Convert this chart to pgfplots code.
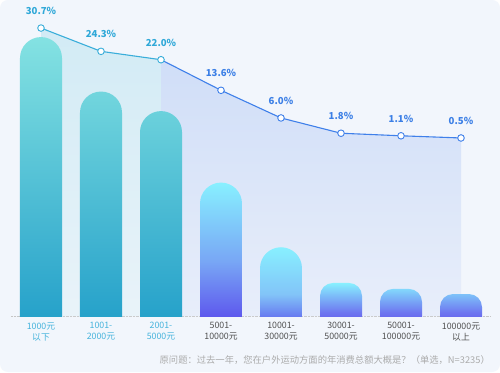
\documentclass[border=0pt]{standalone}
\usepackage{pgfplots}
\usepackage{pgfplotstable}
\pgfplotsset{compat=1.18}
\usepackage{fontspec}
\setmainfont{Noto Sans CJK SC}
\definecolor{bgc}{HTML}{F2F6FC}
\definecolor{lineA}{HTML}{3AAEDA}
\definecolor{lineB}{HTML}{3F80EA}
\definecolor{labA}{HTML}{2FA8D8}
\definecolor{labB}{HTML}{3B7FE6}
\definecolor{areaA1}{HTML}{D2EBF5}
\definecolor{areaA2}{HTML}{E9F3F9}
\definecolor{areaB1}{HTML}{D0DEF8}
\definecolor{areaB2}{HTML}{E8EEFA}
\definecolor{barAtop}{HTML}{84E2E2}
\definecolor{barAbot}{HTML}{1E9CC8}
\definecolor{barBtop}{HTML}{88F0FF}
\definecolor{barBmid}{HTML}{78A6F5}
\definecolor{barBbot}{HTML}{5236EA}
\definecolor{barDmid}{HTML}{82C4F8}
\definecolor{barDbot}{HTML}{4A2AE8}
\definecolor{barCmid}{HTML}{6E78F0}
\definecolor{barCbot}{HTML}{4E2AE6}
\definecolor{tickA}{HTML}{45B3DC}
\definecolor{tickB}{HTML}{505050}
\definecolor{notec}{HTML}{ABABAB}
% share of respondents (%) by yearly outdoor-sports spending
\pgfplotstableread{
x y
0 30.7
1 24.3
2 22.0
}\tabA
\pgfplotstableread{
x y
2 22.0
3 13.6
4 6.0
5 1.8
6 1.1
7 0.5
}\tabLineB
\pgfplotstableread{
x y
3 13.6
}\tabB
\pgfplotstableread{
x y
4 6.0
}\tabD
\pgfplotstableread{
x y
5 1.8
6 1.1
7 0.5
}\tabC
\pgfplotstableread{
x y
3 13.6
4 6.0
5 1.8
6 1.1
7 0.5
}\tabBC
\begin{document}
\begin{tikzpicture}
\fill[white] (0,0) rectangle (500pt,372pt);
\fill[bgc, rounded corners=8pt] (0,0) rectangle (500pt,372pt);
% line / area axis (its baseline lies 48.41 units below the line's zero), with the category labels
\begin{axis}[
  at={(11pt,56pt)}, anchor=south west,
  scale only axis, width=480pt, height=306pt,
  xmin=-0.5, xmax=7.5, ymin=0, ymax=84.07,
  clip=false,
  axis y line=none, axis x line*=bottom,
  x axis line style={draw=gray!45, densely dotted, -},
  xtick={0,...,7}, major tick length=0pt,
  xticklabels={
    {\textcolor{tickA}{1000元}\\\textcolor{tickA}{以下}},
    {\textcolor{tickA}{1001-}\\\textcolor{tickA}{2000元}},
    {\textcolor{tickA}{2001-}\\\textcolor{tickA}{5000元}},
    {5001-\\10000元},
    {10001-\\30000元},
    {30001-\\50000元},
    {50001-\\100000元},
    {100000元\\以上}},
  xticklabel style={align=center, text=tickB, font=\fontsize{8.8}{11}\selectfont, yshift=-3pt},
  ytick=\empty,
  every axis plot/.append style={y filter/.expression={y+48.41}},
  /pgf/number format/assume math mode=true]
\addplot[draw=none, top color=areaA1, bottom color=areaA2] table[x=x,y=y] {\tabA} \closedcycle;
\addplot[draw=none, top color=areaB1, bottom color=areaB2] table[x=x,y=y] {\tabLineB} \closedcycle;
\addplot[lineA, line width=1.1pt, mark=none] table[x=x,y=y] {\tabA};
\addplot[lineB, line width=1.1pt, mark=none] table[x=x,y=y] {\tabLineB};
\addplot[only marks, mark=*, mark size=3.3pt, mark options={fill=white, draw=lineA, line width=0.9pt},
  nodes near coords={\pgfmathprintnumber[fixed,fixed zerofill,precision=1]{\pgfplotspointmeta}\%},
  point meta=explicit,
  every node near coord/.style={font=\bfseries\fontsize{9.6}{12}\selectfont, text=labA, anchor=south, inner sep=2pt, yshift=11pt}]
  table[x=x,y=y,meta=y] {\tabA};
\addplot[only marks, mark=*, mark size=3.3pt, mark options={fill=white, draw=lineB, line width=0.9pt},
  nodes near coords={\pgfmathprintnumber[fixed,fixed zerofill,precision=1]{\pgfplotspointmeta}\%},
  point meta=explicit,
  every node near coord/.style={font=\bfseries\fontsize{9.6}{12}\selectfont, text=labB, anchor=south, inner sep=2pt, yshift=11pt}]
  table[x=x,y=y,meta=y] {\tabBC};
\end{axis}
% bars axis: y=0 lies 25pt below the baseline and is clipped away,
% so only the tops of the bars remain rounded
\begin{scope}
\clip (0pt,56pt) rectangle (500pt,372pt);
\begin{axis}[
  at={(11pt,31pt)}, anchor=south west,
  scale only axis, width=480pt, height=331pt,
  xmin=-0.5, xmax=7.5, ymin=0, ymax=38.9,
  hide axis,
  every axis plot/.append style={ybar, bar width=42pt, bar shift=0pt, draw=none, y filter/.expression={y+5.018}}]
\addplot[rounded corners=21pt, top color=barAtop, bottom color=barAbot] table[x=x,y=y] {\tabA};
\addplot[rounded corners=21pt, top color=barBtop, bottom color=barBbot, middle color=barBmid] table[x=x,y=y] {\tabB};
\addplot[rounded corners=21pt, top color=barBtop, bottom color=barDbot, middle color=barDmid] table[x=x,y=y] {\tabD};
\addplot[rounded corners=13pt, top color=barBtop, bottom color=barCbot, middle color=barCmid] table[x=x,y=y] {\tabC};
\end{axis}
\end{scope}
\node[anchor=east, text=notec, font=\fontsize{9.3}{11}\selectfont, inner sep=0pt] at (490pt,12pt)
  {原问题：过去一年，您在户外运动方面的年消费总额大概是？（单选，N=3235）};
\end{tikzpicture}
\end{document}
